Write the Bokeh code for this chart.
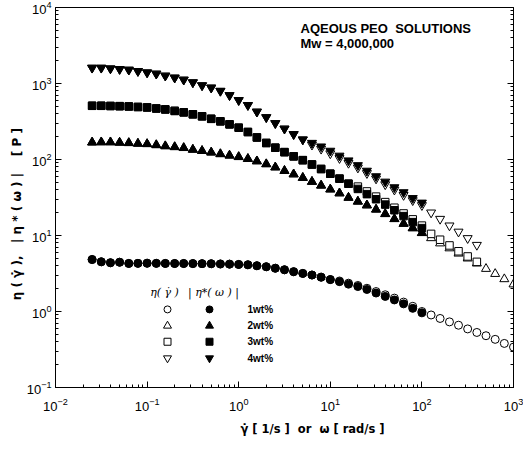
from bokeh.plotting import figure
from bokeh.models import Label, FixedTicker, LogAxis, CustomJSTickFormatter, Range1d
from bokeh.embed import file_html
from bokeh.resources import INLINE

# shear rate / frequency (10 points per decade)
rate = [0.0251, 0.0316, 0.0398, 0.0501, 0.0631, 0.0794, 0.1, 0.126, 0.158, 0.2,
        0.251, 0.316, 0.398, 0.501, 0.631, 0.794, 1.0, 1.26, 1.58, 2.0,
        2.51, 3.16, 3.98, 5.01, 6.31, 7.94, 10.0, 12.6, 15.8, 20.0,
        25.1, 31.6, 39.8, 50.1, 63.1, 79.4, 100.0, 126, 158, 200,
        251, 316, 398, 501, 631, 794, 1000]

# |eta*(omega)| (filled symbols), 0.025 .. 100 rad/s
osc_1 = [4.83, 4.51, 4.38, 4.45, 4.29, 4.30, 4.32, 4.30, 4.29, 4.28, 4.28, 4.27, 4.26,
         4.25, 4.22, 4.20, 4.16, 4.12, 4.00, 3.88, 3.71, 3.54, 3.34, 3.17, 3.02, 2.83,
         2.63, 2.47, 2.29, 2.13, 1.95, 1.75, 1.58, 1.42, 1.26, 1.10, 0.96]
osc_2 = [168, 169, 169, 167, 165, 162, 160, 155, 150, 146, 142, 135, 130, 124, 118, 113,
         108, 102, 95, 87, 79, 71, 64, 57.5, 51, 45.5, 40.5, 36, 31.5, 28, 25, 22, 19.2,
         16.5, 14.3, 12.5, 10.8]
osc_3 = [509, 509, 506, 503, 499, 491, 484, 469, 456, 436, 417, 393, 370, 343, 318, 290,
         262, 230, 195, 165, 143, 125, 110, 98, 86, 75, 65, 56, 48, 41, 35, 30, 25.5,
         21.5, 18, 15, 12.5]
osc_4 = [1607, 1607, 1575, 1546, 1514, 1455, 1396, 1343, 1265, 1192, 1120, 1033, 944,
         881, 798, 700, 603, 519, 425, 359, 300, 254, 215, 183, 165, 148, 130, 112, 97,
         84, 71, 60, 51, 43, 37, 31, 27]

# eta(gamma dot) (open symbols)
ss_1 = [4.83, 4.51, 4.38, 4.45, 4.29, 4.30, 4.32, 4.30, 4.29, 4.28, 4.28, 4.27, 4.26,
        4.25, 4.22, 4.20, 4.16, 4.12, 4.00, 3.88, 3.71, 3.54, 3.34, 3.17, 3.02, 2.83,
        2.63, 2.52, 2.36, 2.20, 2.02, 1.83, 1.66, 1.50, 1.33, 1.17, 1.00,
        0.90, 0.81, 0.73, 0.66, 0.59, 0.53, 0.48, 0.43, 0.38, 0.34]
ss_2 = [168, 169, 169, 167, 165, 162, 160, 155, 150, 146, 142, 135, 130, 124, 118, 113,
        108, 102, 95, 87, 79, 71, 64, 57.5, 51, 45.5, 40.5, 36, 31.5, 28, 25, 22, 19.2,
        16.5, 14.3, 12.5, 10.8, 9.25, 7.9, 6.8, 5.8, 5.0, 4.3, 3.65, 3.13, 2.67, 2.28]
ss_3 = [509, 509, 506, 503, 499, 491, 484, 469, 456, 436, 417, 393, 370, 343, 318, 290,
        262, 230, 195, 165, 143, 125, 110, 98, 86, 75, 65, 56, 48, 44, 38, 32.5, 27.5,
        23.2, 19.5, 16.3, 13.5, 10.5, 8.8, 7.4, 6.2, 5.3, 4.5]
ss_4 = [1607, 1607, 1575, 1546, 1514, 1455, 1396, 1343, 1265, 1192, 1120, 1033, 944,
        881, 798, 700, 603, 519, 425, 359, 300, 254, 215, 183, 156, 138, 120, 104, 90,
        78, 66, 56, 47, 40, 34, 29, 25, 20, 16.5, 13.5, 11.2, 9.2, 7.5]

labels = ["1wt%", "2wt%", "3wt%", "4wt%"]
markers = ["circle", "triangle", "square", "inverted_triangle"]
sizes = [8, 9, 7.5, 9]

x_ticks = [0.01, 0.1, 1, 10, 100, 1000]
y_ticks = [0.1, 1, 10, 100, 1000, 10000]

W, H = 523, 438
ML, MR, MT, MB = 55, 10, 7, 49
FW = W - ML - MR
FH = H - MT - MB

FONT = "Liberation Sans"
LFONT = "DejaVu Sans"
NB = "\u00a0"
DOT = "\u0307"

p = figure(width=W, height=H, x_axis_type="log", y_axis_type="log",
           x_range=Range1d(0.01, 1000), y_range=Range1d(0.1, 10000),
           output_backend="svg", toolbar_location=None, title=None,
           min_border_left=ML, min_border_right=MR, min_border_top=MT,
           min_border_bottom=MB)
p.grid.visible = False
p.outline_line_color = "black"
p.outline_line_width = 1
p.background_fill_color = "white"
p.border_fill_color = "white"

p.xaxis.ticker = FixedTicker(ticks=x_ticks,
                             minor_ticks=[m * t for t in x_ticks[:-1] for m in range(2, 10)])
p.yaxis.ticker = FixedTicker(ticks=y_ticks,
                             minor_ticks=[m * t for t in y_ticks[:-1] for m in range(2, 10)])

for ax in (p.xaxis[0], p.yaxis[0]):
    ax.major_tick_in = 6
    ax.major_tick_out = 0
    ax.minor_tick_in = 3
    ax.minor_tick_out = 0
    ax.axis_line_color = "black"
    ax.major_tick_line_color = "black"
    ax.minor_tick_line_color = "black"
    ax.major_label_text_font = FONT
    ax.major_label_text_font_size = "13px"
    ax.major_label_text_color = "black"
    ax.axis_label_text_font = LFONT
    ax.axis_label_text_font_size = "12px"
    ax.axis_label_text_font_style = "bold"
    ax.axis_label_text_color = "black"

p.xaxis.major_label_standoff = 10
p.xaxis.axis_label_standoff = 8
p.yaxis.major_label_standoff = 4
p.yaxis.axis_label_standoff = 0
p.xaxis.axis_label_text_font_size = "11.5px"
p.xaxis.axis_label = (NB * 14 + "γ" + DOT + " [ 1/s ]" + NB * 2 + "or" + NB * 2 + "ω [ rad/s ]")
p.yaxis.axis_label = ("η" + NB + "(" + NB + "γ" + DOT + NB + ")," + NB * 3 + "|" + NB + "η" + NB + "*" + NB
                      + "(" + NB + "ω" + NB + ")" + NB + "|" + NB * 4 + "[" + NB + "P" + NB + "]" + NB * 8)

right = LogAxis(ticker=FixedTicker(ticks=y_ticks,
                                   minor_ticks=[m * t for t in y_ticks[:-1] for m in range(2, 10)]),
                formatter=CustomJSTickFormatter(code="return ''"),
                major_tick_in=6, major_tick_out=0, minor_tick_in=3, minor_tick_out=0,
                major_label_standoff=0, axis_line_color="black")
p.add_layout(right, "right")

open_sets = [ss_1, ss_2, ss_3, ss_4]
filled_sets = [osc_1, osc_2, osc_3, osc_4]

for vals, m, s in zip(open_sets, markers, sizes):
    p.scatter(rate[:len(vals)], vals, marker=m, size=s, fill_color="white",
              line_color="black", line_width=1)
for vals, m, s in zip(filled_sets, markers, sizes):
    p.scatter(rate[:len(vals)], vals, marker=m, size=s, fill_color="black",
              line_color="black", line_width=1)

# legend (positions in frame pixels)
def fx(px):
    return 10 ** (-2 + 5 * px / FW)

def fy(py):
    return 10 ** (-1 + 5 * py / FH)

row_y = [78.5, 62, 46, 29.5]
open_x, fill_x, text_x = 112, 154, 192
p.scatter([fx(open_x)] * 4, [fy(v) for v in row_y], marker=markers,
          size=[7, 8, 7, 8], fill_color="white", line_color="black", line_width=1)
p.scatter([fx(fill_x)] * 4, [fy(v) for v in row_y], marker=markers,
          size=[7, 8, 7, 8], fill_color="black", line_color="black", line_width=1)
for lab, yy in zip(labels, row_y):
    p.add_layout(Label(x=text_x, y=yy, x_units="screen", y_units="screen", text=lab,
                       text_font=FONT, text_font_style="bold", text_font_size="10px",
                       text_baseline="middle", text_align="left", text_color="black"))

p.add_layout(Label(x=109, y=95, x_units="screen", y_units="screen",
                   text="η(" + NB + "γ" + DOT + NB + ")",
                   text_font="DejaVu Serif", text_font_style="italic", text_color="black",
                   text_font_size="11px", text_align="center", text_baseline="middle"))
p.add_layout(Label(x=158, y=95, x_units="screen", y_units="screen",
                   text="|" + NB + "η*(" + NB + "ω" + NB + ")" + NB + "|",
                   text_font="DejaVu Serif", text_font_style="italic", text_color="black",
                   text_font_size="11px", text_align="center", text_baseline="middle"))

p.add_layout(Label(x=245, y=359, x_units="screen", y_units="screen",
                   text="AQEOUS PEO" + NB * 2 + "SOLUTIONS", text_font=FONT, text_color="black",
                   text_font_style="bold", text_font_size="13px", text_baseline="middle"))
p.add_layout(Label(x=245, y=344, x_units="screen", y_units="screen",
                   text="Mw = 4,000,000", text_font=FONT, text_color="black",
                   text_font_style="bold", text_font_size="13px", text_baseline="middle"))

open("out.html", "w").write(file_html(p, INLINE))
